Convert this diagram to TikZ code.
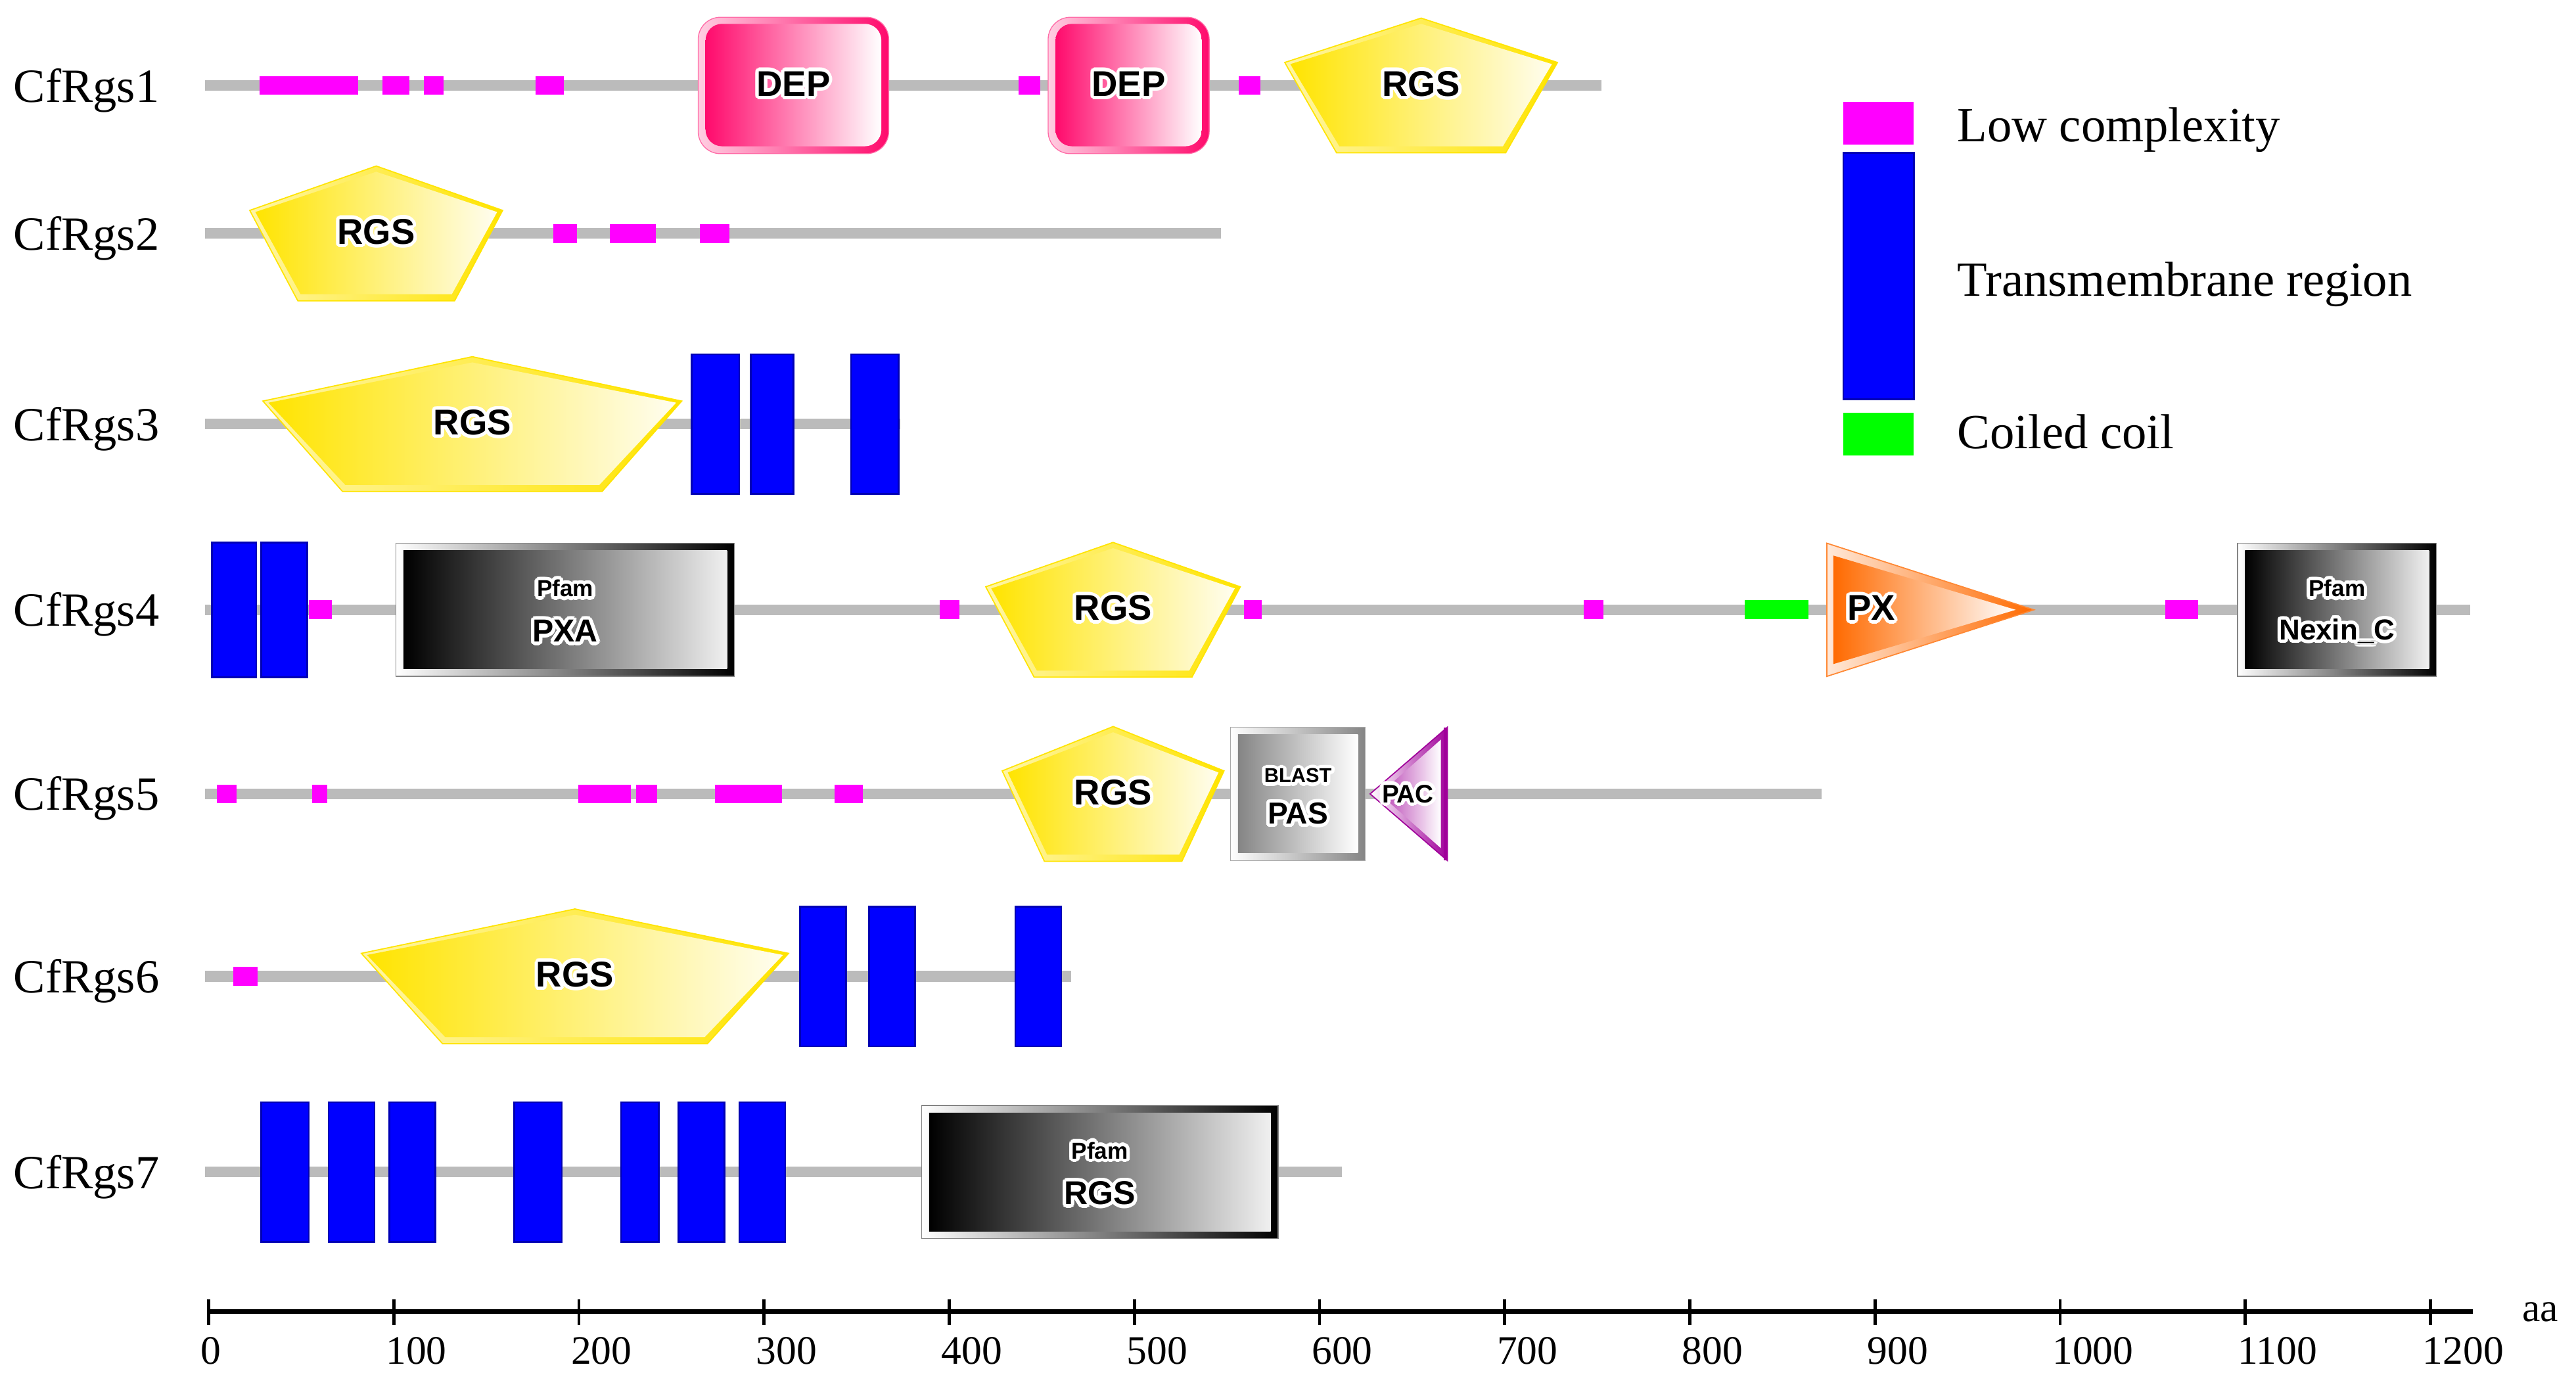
\documentclass[tikz,border=0pt]{standalone}
\usepackage{fontspec}
\setmainfont{Liberation Serif}
\setsansfont{Liberation Sans}
\usepackage[copies]{contour}
\contourlength{1.2pt}
\contournumber{16}
\usepackage{tikz}
\usetikzlibrary{calc}
\definecolor{kgrey}{HTML}{BBBBBB}
\definecolor{kgray}{HTML}{858585}
\definecolor{kmagenta}{HTML}{FF00FF}
\definecolor{kblue}{HTML}{0000FF}
\definecolor{kbluedark}{HTML}{0000B4}
\definecolor{kgreen}{HTML}{00FF00}
\definecolor{kpink}{HTML}{FF0A6C}
\definecolor{kyellow}{HTML}{FFE400}
\definecolor{korange}{HTML}{FF6A00}
\definecolor{kpurple}{HTML}{A0009A}

\newcommand{\glow}[1]{\contour{white}{#1}}

\tikzset{
  backbone/.style={draw=kgrey, line width=0.13cm},
  lowc/.style={fill=kmagenta},
  tmseg/.style={fill=kblue, draw=kbluedark, line width=0.6pt},
  ccoil/.style={fill=kgreen},
  domlabel/.style={font=\fontsize{12.4}{14}\selectfont\sffamily\bfseries, inner sep=0pt},
  pfamtag/.style={font=\fontsize{8}{9}\selectfont\sffamily\bfseries, inner sep=0pt},
  protname/.style={font=\fontsize{16.5}{18}\selectfont, anchor=base west, inner sep=0pt},
  legtext/.style={font=\fontsize{17}{19}\selectfont, anchor=base west, inner sep=0pt},
  axlabel/.style={font=\fontsize{14}{16}\selectfont, anchor=base west, inner sep=0pt}
}

%% domain shapes: start and end in aa, node name
\newcommand{\rgsdom}[3]{%
  \pgfmathsetmacro{\rgsmid}{(#1+#2)/2}
  \pgfmathsetmacro{\rgsin}{0.19*(#2-#1)}
  \shade[left color=kyellow!35, right color=kyellow, draw=kyellow, line width=0.4pt]
    (#1,-14) -- (\rgsmid,-41) -- (#2,-14) -- ({#2-\rgsin},41) -- ({#1+\rgsin},41) -- cycle;
  \shade[left color=kyellow, right color=kyellow!6]
    ({#1+3},-13) -- (\rgsmid,-37.5) -- ({#2-3},-13) -- ({#2-\rgsin-1.5},37) -- ({#1+\rgsin+1.5},37) -- cycle;
  \node[domlabel] (#3) at (\rgsmid,0) {\glow{RGS}};
}
\newcommand{\depdom}[3]{%
  \shade[left color=kpink!20, right color=kpink, draw=kpink!60, line width=0.3pt, rounded corners=0.27cm]
    (#1,-41.5) rectangle (#2,41.5);
  \shade[left color=kpink, right color=white, rounded corners=0.2cm]
    ({#1+4},-37.5) rectangle ({#2-4},37);
  \node[domlabel] (#3) at ({(#1+#2)/2},0) {\glow{DEP}};
}
%% Pfam box: start, end, name, label, label size
\newcommand{\pfamdom}[5]{%
  \shade[left color=white, right color=black, draw=kgray, line width=0.3pt]
    (#1,-40.5) rectangle (#2,40.5);
  \shade[left color=black, right color=white!94!black]
    ({#1+4},-36) rectangle ({#2-4},36);
  \node[pfamtag] (#3tag) at ({(#1+#2)/2},-12) {\glow{Pfam}};
  \node[domlabel, font=\fontsize{#5}{#5}\selectfont\sffamily\bfseries] (#3) at ({(#1+#2)/2},14) {\glow{#4}};
}

\begin{document}
\begin{tikzpicture}[x=0.02254cm, y=-0.02cm]
  \useasboundingbox (-112.69,0) rectangle (1278.6,848);

  %% CfRgs1
  \begin{scope}[shift={(0,52)}]
    \node[protname] (name1) at (-105.6,10) {CfRgs1};
    \draw[backbone] (-1.8,0) -- (752.4,0);
    \foreach \a/\b in {27.5/80.7, 94.0/108.3, 116.2/126.9, 176.6/191.7, 437.4/449.0, 556.3/567.9}
      \fill[lowc] (\a,-5.75) rectangle (\b,5.75);
    \depdom{264.4}{367.3}{dep1a}
    \depdom{453.4}{540.4}{dep1b}
    \rgsdom{581.2}{728.5}{rgs1}
  \end{scope}

  %% CfRgs2
  \begin{scope}[shift={(0,142)}]
    \node[protname] (name2) at (-105.6,10) {CfRgs2};
    \draw[backbone] (-1.8,0) -- (546.6,0);
    \foreach \a/\b in {186.3/198.8, 216.5/241.4, 265.3/281.3}
      \fill[lowc] (\a,-5.75) rectangle (\b,5.75);
    \rgsdom{22.2}{158.8}{rgs2}
  \end{scope}

  %% CfRgs3
  \begin{scope}[shift={(0,258)}]
    \node[protname] (name3) at (-105.6,10) {CfRgs3};
    \draw[backbone] (-1.8,0) -- (373.6,0);
    \rgsdom{29.3}{255.5}{rgs3}
    \foreach \a/\b in {260.9/286.6, 292.8/315.9, 346.9/372.7}
      \draw[tmseg] (\a,-42.5) rectangle (\b,42.5);
  \end{scope}

  %% CfRgs4
  \begin{scope}[shift={(0,371)}]
    \node[protname] (name4) at (-105.6,10) {CfRgs4};
    \draw[backbone] (-1.8,0) -- (1221.5,0);
    \foreach \a/\b in {1.8/25.7, 28.4/53.2}
      \draw[tmseg] (\a,-41) rectangle (\b,41);
    \foreach \a/\b in {54.1/66.5, 394.9/405.5, 559.0/568.8, 742.7/753.3, 1056.8/1074.5}
      \fill[lowc] (\a,-5.75) rectangle (\b,5.75);
    \fill[ccoil] (829.6,-5.75) rectangle (864.2,5.75);
    \pfamdom{101.2}{284.0}{pxa4}{PXA}{11}
    \rgsdom{419.7}{557.2}{rgs4}
    \shade[left color=korange!15, right color=korange, draw=korange!80, line width=0.4pt]
      (874,-40.5) -- (985.8,0) -- (874,40.5) -- cycle;
    \shade[left color=korange, right color=white]
      (877.5,-33) -- (976,0) -- (877.5,33) -- cycle;
    \node[domlabel] (px4) at (898,0) {\glow{PX}};
    \pfamdom{1095.8}{1203.2}{nexin4}{Nexin\_C}{10}
  \end{scope}

  %% CfRgs5
  \begin{scope}[shift={(0,483)}]
    \node[protname] (name5) at (-105.6,10) {CfRgs5};
    \draw[backbone] (-1.8,0) -- (871.3,0);
    \foreach \a/\b in {4.4/15.1, 55.9/63.9, 199.6/228.0, 230.7/242.2, 273.3/309.7, 338.0/353.2}
      \fill[lowc] (\a,-5.75) rectangle (\b,5.75);
    \rgsdom{428.6}{548.4}{rgs5}
    \shade[left color=white, right color=kgray, draw=kgray!70, line width=0.3pt]
      (551.9,-40.5) rectangle (624.7,40.5);
    \shade[left color=kgray, right color=white]
      (555.9,-36) rectangle (620.7,36);
    \node[pfamtag, font=\fontsize{7}{8}\selectfont\sffamily\bfseries] (pas5tag) at (588.3,-10) {\glow{BLAST}};
    \node[domlabel, font=\fontsize{10.5}{12}\selectfont\sffamily\bfseries] (pas5) at (588.3,13) {\glow{PAS}};
    \shade[left color=white, right color=kpurple, draw=kpurple, line width=0.4pt]
      (669,-40.5) -- (627.3,0) -- (669,40.5) -- cycle;
    \shade[left color=kpurple!75, right color=white]
      (665.5,-33) -- (632.5,0) -- (665.5,33) -- cycle;
    \draw[kpurple, line width=0.05cm] (668,-40.5) -- (668,40.5);
    \node[domlabel, font=\fontsize{8.8}{10}\selectfont\sffamily\bfseries] (pac5) at (647.7,1) {\glow{PAC}};
  \end{scope}

  %% CfRgs6
  \begin{scope}[shift={(0,594)}]
    \node[protname] (name6) at (-105.6,10) {CfRgs6};
    \draw[backbone] (-1.8,0) -- (465.8,0);
    \fill[lowc] (13.3,-5.75) rectangle (26.6,5.75);
    \rgsdom{82.5}{313.2}{rgs6}
    \foreach \a/\b in {319.4/344.3, 356.7/381.5, 435.7/460.5}
      \draw[tmseg] (\a,-42.5) rectangle (\b,42.5);
  \end{scope}

  %% CfRgs7
  \begin{scope}[shift={(0,713)}]
    \node[protname] (name7) at (-105.6,10) {CfRgs7};
    \draw[backbone] (-1.8,0) -- (612.2,0);
    \foreach \a/\b in {28.4/54.1, 64.8/89.6, 97.6/122.4, 165.0/190.8, 222.7/243.1, 253.8/278.6, 286.6/311.4}
      \draw[tmseg] (\a,-42.5) rectangle (\b,42.5);
    \pfamdom{385.1}{577.6}{rgs7}{RGS}{11.4}
  \end{scope}

  %% legend
  \fill[kmagenta] (882.9,62) rectangle (921,88);
  \draw[tmseg] (882.9,93) rectangle (921,243);
  \fill[kgreen] (882.9,251) rectangle (921,277);
  \node[legtext] (leglc) at (944.1,86) {Low complexity};
  \node[legtext] (legtm) at (944.1,180) {Transmembrane region};
  \node[legtext] (legcc) at (944.1,273) {Coiled coil};

  %% length axis
  \draw[line width=1.5pt] (0,798) -- (1222.7,798);
  \foreach \tk in {0,100,...,1200}{
    \draw[line width=1.1pt] (\tk,790.5) -- (\tk,806);
    \node[axlabel] (tick\tk) at ({\tk-4.5},830) {\tk};
  }
  \node[axlabel] (aaunit) at (1249.3,804) {aa};

\end{tikzpicture}
\end{document}
